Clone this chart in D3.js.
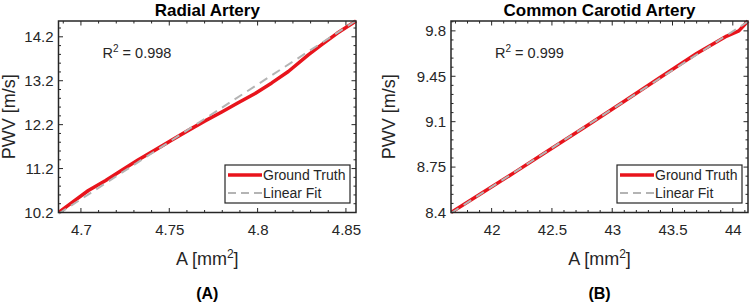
<!DOCTYPE html>
<html>
<head>
<meta charset="utf-8">
<script src="https://cdn.jsdelivr.net/npm/d3@7"></script>
<style>
  body { margin: 0; background: #fff; }
  svg { display: block; font-family: "Liberation Sans", Arial, sans-serif; }
</style>
</head>
<body>
<div id="chart"></div>
<script>
// Radial artery (panel A)
const radialA = [4.6873, 4.6960, 4.7042, 4.7140, 4.7231, 4.7325, 4.7419, 4.7510, 4.7608, 4.7700, 4.7797, 4.7890, 4.7986, 4.8080, 4.8174, 4.8287, 4.8363, 4.8450, 4.8557];
const radialPWV = [10.20, 10.46, 10.70, 10.93, 11.16, 11.40, 11.62, 11.84, 12.07, 12.28, 12.49, 12.70, 12.91, 13.15, 13.41, 13.79, 14.02, 14.28, 14.56];
const radialFitA = [4.6873, 4.8557];
const radialFitPWV = [10.17, 14.57];
const radialXTicks = [4.7, 4.75, 4.8, 4.85];
const radialYTicks = [10.2, 11.2, 12.2, 13.2, 14.2];

// Common carotid artery (panel B)
const carotidA = [41.663, 41.9, 42.2, 42.5, 42.8, 43.1, 43.4, 43.7, 43.95, 44.05, 44.126];
const carotidPWV = [8.400, 8.538, 8.715, 8.895, 9.075, 9.258, 9.442, 9.625, 9.760, 9.800, 9.876];
const carotidFitA = [41.663, 44.126];
const carotidFitPWV = [8.395, 9.872];
const carotidXTicks = [42, 42.5, 43, 43.5, 44];
const carotidYTicks = [8.4, 8.75, 9.1, 9.45, 9.8];

const W = 751, H = 304;
const svg = d3.select("#chart").append("svg")
  .attr("width", W).attr("height", H);

function range(a, b, step) {
  const out = [];
  const n = Math.round((b - a) / step);
  for (let i = 0; i <= n; i++) out.push(+(a + i * step).toFixed(6));
  return out;
}

function drawPanel(p) {
  const x = d3.scaleLinear().domain(p.xDomain).range([p.left, p.right]);
  const y = d3.scaleLinear().domain(p.yDomain).range([p.bottom, p.top]);
  const g = svg.append("g");

  // minor ticks (inward on all sides)
  const xMinor = range(p.xMinor[0], p.xMinor[1], p.xMinor[2]).filter(v => v >= p.xDomain[0] && v <= p.xDomain[1]);
  const yMinor = range(p.yMinor[0], p.yMinor[1], p.yMinor[2]).filter(v => v >= p.yDomain[0] && v <= p.yDomain[1]);
  const tk = g.append("g").attr("stroke", "#262626").attr("stroke-width", 1);
  xMinor.forEach(v => {
    const big = p.xTicks.some(t => Math.abs(t - v) < 1e-6);
    const len = big ? 4.5 : 2.5;
    tk.append("line").attr("x1", x(v)).attr("x2", x(v)).attr("y1", p.bottom).attr("y2", p.bottom - len);
    tk.append("line").attr("x1", x(v)).attr("x2", x(v)).attr("y1", p.top).attr("y2", p.top + len);
  });
  yMinor.forEach(v => {
    const big = p.yTicks.some(t => Math.abs(t - v) < 1e-6);
    const len = big ? 4.5 : 2.5;
    tk.append("line").attr("y1", y(v)).attr("y2", y(v)).attr("x1", p.left).attr("x2", p.left + len);
    tk.append("line").attr("y1", y(v)).attr("y2", y(v)).attr("x1", p.right).attr("x2", p.right - len);
  });

  // axes with labels only
  const xAxis = g.append("g")
    .attr("transform", `translate(0,${p.bottom})`)
    .call(d3.axisBottom(x).tickValues(p.xTicks).tickSize(0).tickPadding(12).tickFormat(d3.format("")));
  const yAxis = g.append("g")
    .attr("transform", `translate(${p.left},0)`)
    .call(d3.axisLeft(y).tickValues(p.yTicks).tickSize(0).tickPadding(5).tickFormat(d3.format("")));
  [xAxis, yAxis].forEach(a => {
    a.select(".domain").remove();
    a.selectAll("text").style("font-size", "15px").attr("fill", "#262626")
      .style("font-family", "'Liberation Sans', Arial, sans-serif");
  });

  // clip area
  const clipId = "clip" + p.id;
  svg.append("clipPath").attr("id", clipId)
    .append("rect").attr("x", p.left).attr("y", p.top - 2)
    .attr("width", p.right - p.left + 2).attr("height", p.bottom - p.top + 4);

  const line = d3.line().x(d => x(d[0])).y(d => y(d[1]));
  const gt = p.a.map((v, i) => [v, p.pwv[i]]);
  const fit = p.fitA.map((v, i) => [v, p.fitPwv[i]]);

  g.append("path").datum(gt)
    .attr("clip-path", `url(#${clipId})`)
    .attr("fill", "none").attr("stroke", "#e8141c").attr("stroke-width", 3.5)
    .attr("stroke-linejoin", "round")
    .attr("d", line);
  g.append("path").datum(fit)
    .attr("clip-path", `url(#${clipId})`)
    .attr("fill", "none").attr("stroke", "#b4b4b4").attr("stroke-width", 2)
    .attr("stroke-dasharray", "9,6")
    .attr("d", line);

  // box
  g.append("rect")
    .attr("x", p.left).attr("y", p.top)
    .attr("width", p.right - p.left).attr("height", p.bottom - p.top)
    .attr("fill", "none").attr("stroke", "#262626").attr("stroke-width", 1.5);

  const cx = (p.left + p.right) / 2;
  // title
  g.append("text").attr("x", cx).attr("y", 16).attr("text-anchor", "middle")
    .style("font-size", "17px").style("font-weight", "bold").text(p.title);
  // x label
  const xl = g.append("text").attr("x", cx).attr("y", 265).attr("text-anchor", "middle")
    .style("font-size", "18px").attr("fill", "#262626");
  xl.append("tspan").text("A [mm");
  xl.append("tspan").attr("dy", -7).style("font-size", "12px").text("2");
  xl.append("tspan").attr("dy", 7).text("]");
  // y label
  g.append("text")
    .attr("transform", `translate(${p.left - p.yLabelOff},${(p.top + p.bottom) / 2}) rotate(-90)`)
    .attr("text-anchor", "middle").style("font-size", "18px").attr("fill", "#262626")
    .text("PWV [m/s]");
  // panel letter
  g.append("text").attr("x", cx).attr("y", 299).attr("text-anchor", "middle")
    .style("font-size", "16px").style("font-weight", "bold").text(p.letter);

  // R^2 annotation
  const r = g.append("text").attr("x", p.left + 44).attr("y", 58)
    .style("font-size", "14.5px").attr("fill", "#262626");
  r.append("tspan").text("R");
  r.append("tspan").attr("dy", -6).style("font-size", "10px").text("2");
  r.append("tspan").attr("dy", 6).text(" = " + p.r2);

  // legend
  const lg = g.append("g").attr("transform", `translate(${p.right - 131},${165})`);
  lg.append("rect").attr("width", 125).attr("height", 38)
    .attr("fill", "#fff").attr("stroke", "#262626").attr("stroke-width", 1.2);
  lg.append("line").attr("x1", 3).attr("x2", 37).attr("y1", 10).attr("y2", 10)
    .attr("stroke", "#e8141c").attr("stroke-width", 3.5);
  lg.append("line").attr("x1", 3).attr("x2", 37).attr("y1", 28).attr("y2", 28)
    .attr("stroke", "#b4b4b4").attr("stroke-width", 2).attr("stroke-dasharray", "8,5");
  lg.append("text").attr("x", 38).attr("y", 15).style("font-size", "14px").attr("fill", "#262626").text("Ground Truth");
  lg.append("text").attr("x", 38).attr("y", 33).style("font-size", "14px").attr("fill", "#262626").text("Linear Fit");
}

drawPanel({
  id: "A", title: "Radial Artery", letter: "(A)", r2: "0.998",
  left: 58.5, right: 356, top: 21, bottom: 212.5, yLabelOff: 44,
  xDomain: [radialFitA[0], radialFitA[1]], yDomain: [10.2, 14.56],
  xTicks: radialXTicks, yTicks: radialYTicks,
  xMinor: [4.69, 4.85, 0.01], yMinor: [10.2, 14.6, 0.2],
  a: radialA, pwv: radialPWV, fitA: radialFitA, fitPwv: radialFitPWV
});

drawPanel({
  id: "B", title: "Common Carotid Artery", letter: "(B)", r2: "0.999",
  left: 451, right: 748, top: 21, bottom: 212.5, yLabelOff: 56,
  xDomain: [carotidFitA[0], carotidFitA[1]], yDomain: [8.4, 9.876],
  xTicks: carotidXTicks, yTicks: carotidYTicks,
  xMinor: [41.7, 44.1, 0.1], yMinor: [8.4, 9.87, 0.07],
  a: carotidA, pwv: carotidPWV, fitA: carotidFitA, fitPwv: carotidFitPWV
});
</script>
</body>
</html>
